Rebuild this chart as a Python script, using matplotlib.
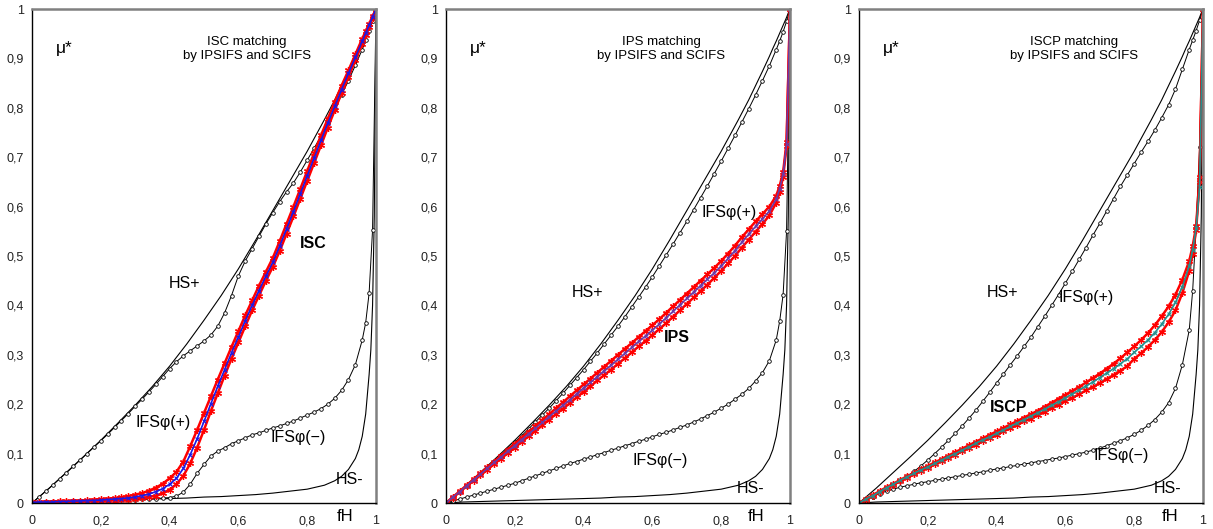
import matplotlib.pyplot as plt

plt.rcParams['font.family'] = ['Liberation Sans', 'DejaVu Sans']

# fH sample points for the IFS and matching curves
FH = [0, .02, .04, .06, .08, .10, .12, .14, .16, .18,
      .20, .22, .24, .26, .28, .30, .32, .34, .36, .38,
      .40, .42, .44, .46, .48, .50, .52, .54, .56, .58,
      .60, .62, .64, .66, .68, .70, .72, .74, .76, .78,
      .80, .82, .84, .86, .88, .90, .92, .94, .96,
      .97, .98, .99, 1.0]

# Hashin-Shtrikman bounds (same for all three cases)
HS_X = [0, .05, .1, .15, .2, .25, .3, .35, .4, .45,
        .5, .55, .6, .65, .7, .75, .8, .85, .88, .9,
        .92, .94, .95, .96, .97, .98, .985, .99, .995, 1.0]
HS_PLUS = [0, .030, .062, .094, .127, .162, .198, .236, .277, .322,
           .370, .420, .474, .532, .592, .652, .712, .776, .816, .845,
           .874, .904, .920, .935, .951, .967, .975, .983, .992, 1.0]
HS_MINUS = [0, .002, .003, .004, .005, .006, .007, .008, .009, .010,
            .012, .013, .015, .017, .020, .024, .028, .036, .045, .054,
            .068, .090, .108, .135, .180, .260, .310, .400, .580, 1.0]

# ISC
isc_ifs_plus = [0, .012, .024, .036, .049, .061, .074, .087, .100, .113,
                .126, .139, .153, .167, .181, .196, .210, .225, .240, .256,
                .272, .286, .298, .308, .318, .328, .340, .358, .385, .420,
                .460, .490, .515, .540, .565, .588, .610, .630, .648, .670,
                .694, .718, .743, .770, .797, .826, .855, .886, .918,
                .937, .955, .975, 1.0]
isc_ifs_minus = [0, .001, .002, .002, .003, .003, .004, .004, .004, .005,
                 .005, .005, .006, .006, .007, .007, .008, .008, .009, .010,
                 .011, .014, .022, .038, .060, .078, .095, .105, .112, .120,
                 .126, .132, .138, .142, .147, .152, .156, .161, .166, .172,
                 .178, .184, .191, .200, .212, .228, .250, .280, .330,
                 .365, .425, .553, 1.0]
isc_upper = [.002, .002, .003, .003, .004, .004, .005, .005, .006, .007,
             .008, .009, .010, .012, .014, .017, .020, .025, .031, .039,
             .050, .063, .084, .115, .148, .182, .216, .250, .283, .316,
             .348, .380, .410, .440, .468, .496, .530, .565, .600, .636,
             .672, .708, .744, .778, .812, .845, .876, .908, .940,
             .955, .970, .985, 1.0]
isc_lower = [.001, .001, .001, .002, .002, .002, .003, .003, .003, .004,
             .004, .005, .005, .006, .007, .008, .010, .012, .015, .020,
             .027, .038, .055, .080, .112, .148, .186, .222, .258, .292,
             .325, .358, .390, .420, .450, .478, .510, .545, .580, .616,
             .652, .688, .724, .760, .795, .830, .863, .896, .930,
             .947, .964, .982, 1.0]
isc_mid = [.001, .002, .002, .002, .003, .003, .004, .004, .005, .005,
           .006, .007, .008, .009, .010, .012, .015, .018, .023, .029,
           .038, .050, .070, .098, .130, .165, .201, .236, .270, .304,
           .336, .369, .400, .430, .459, .487, .520, .555, .590, .626,
           .662, .698, .734, .769, .803, .837, .870, .902, .935,
           .951, .967, .984, 1.0]

# IPS
ips_ifs_plus = [0, .011, .023, .035, .047, .059, .071, .084, .097, .110,
                .123, .136, .150, .164, .178, .192, .207, .222, .238, .254,
                .270, .287, .304, .322, .340, .358, .377, .397, .417, .437,
                .458, .480, .502, .524, .547, .570, .594, .618, .642, .667,
                .692, .718, .744, .771, .798, .826, .855, .885, .918,
                .935, .954, .975, 1.0]
ips_ifs_minus = [0, .004, .008, .012, .016, .020, .024, .028, .032, .036,
                 .040, .045, .050, .055, .060, .065, .070, .075, .080, .084,
                 .089, .093, .098, .102, .107, .111, .116, .120, .125, .129,
                 .134, .139, .143, .148, .153, .158, .164, .170, .177, .184,
                 .192, .200, .210, .220, .232, .247, .264, .288, .330,
                 .368, .422, .550, 1.0]
ips_upper = [0, .012, .024, .036, .048, .060, .072, .084, .096, .108,
             .120, .132, .144, .156, .168, .180, .192, .204, .216, .228,
             .240, .252, .264, .276, .288, .300, .312, .324, .336, .348,
             .360, .372, .385, .398, .411, .424, .437, .450, .463, .476,
             .490, .505, .521, .538, .554, .570, .585, .600, .622,
             .642, .670, .730, 1.0]
ips_lower = [0, .011, .022, .034, .045, .056, .067, .079, .090, .101,
             .112, .124, .135, .146, .157, .169, .180, .191, .202, .214,
             .225, .236, .248, .259, .270, .282, .293, .305, .317, .328,
             .340, .352, .364, .377, .390, .403, .416, .429, .442, .456,
             .470, .485, .500, .517, .533, .549, .565, .582, .608,
             .630, .660, .722, 1.0]
ips_mid = [0, .012, .023, .035, .047, .058, .070, .082, .093, .105,
           .116, .128, .140, .151, .163, .175, .186, .198, .209, .221,
           .233, .244, .256, .268, .279, .291, .303, .315, .327, .338,
           .350, .362, .375, .388, .401, .414, .427, .440, .453, .466,
           .480, .495, .511, .528, .544, .560, .575, .591, .615,
           .636, .665, .726, 1.0]

# ISCP
iscp_ifs_plus = [0, .006, .013, .020, .028, .036, .045, .054, .064, .075,
                 .087, .100, .113, .127, .141, .156, .172, .188, .206, .224,
                 .243, .261, .280, .298, .317, .336, .357, .378, .400, .422,
                 .445, .469, .493, .517, .542, .566, .591, .616, .641, .664,
                 .687, .710, .732, .755, .780, .806, .838, .878, .918,
                 .937, .956, .977, 1.0]
iscp_ifs_minus = [0, .007, .013, .019, .024, .028, .032, .035, .038, .041,
                  .043, .046, .048, .051, .053, .056, .058, .061, .063, .066,
                  .069, .071, .074, .076, .079, .081, .084, .086, .089, .091,
                  .094, .097, .100, .103, .107, .111, .116, .121, .126, .132,
                  .139, .147, .157, .169, .184, .203, .232, .280, .350,
                  .430, .560, .720, 1.0]
iscp_upper = [0, .008, .016, .024, .032, .039, .047, .054, .061, .068,
              .075, .082, .089, .096, .103, .110, .117, .124, .131, .138,
              .145, .152, .159, .166, .173, .180, .187, .195, .203, .211,
              .219, .227, .235, .244, .253, .262, .272, .282, .293, .305,
              .317, .330, .344, .360, .378, .398, .422, .452, .490,
              .520, .560, .660, 1.0]
iscp_lower = [0, .007, .015, .022, .030, .037, .044, .051, .058, .065,
              .071, .078, .085, .091, .098, .105, .111, .118, .125, .131,
              .138, .145, .151, .158, .165, .171, .178, .185, .192, .199,
              .206, .213, .220, .228, .235, .243, .251, .259, .268, .277,
              .292, .303, .316, .330, .346, .366, .390, .425, .470,
              .505, .552, .650, 1.0]
iscp_mid = [0, .008, .015, .023, .031, .038, .046, .053, .060, .067,
            .073, .080, .087, .094, .100, .107, .114, .121, .128, .134,
            .141, .148, .155, .162, .169, .176, .183, .190, .198, .205,
            .213, .221, .229, .237, .245, .254, .263, .272, .282, .292,
            .305, .317, .330, .345, .362, .382, .406, .438, .480,
            .512, .556, .640, 1.0]

X_TICKS = [0, 0.2, 0.4, 0.6, 0.8, 1.0]
X_LABELS = ['0', '0,2', '0,4', '0,6', '0,8', '1']
Y_TICKS = [0, .1, .2, .3, .4, .5, .6, .7, .8, .9, 1.0]
Y_LABELS = ['0', '0,1', '0,2', '0,3', '0,4', '0,5', '0,6', '0,7', '0,8', '0,9', '1']

panels = [
    dict(left=32, title='ISC matching\nby IPSIFS and SCIFS', fh_x=0.91,
         ifs_p=isc_ifs_plus, ifs_m=isc_ifs_minus, up=isc_upper, lo=isc_lower,
         mid=isc_mid, mid_color='#1a1ae6',
         labels=[('HS+', .442, .445, 'normal'), ('ISC', .817, .526, 'bold'),
                 ('IFSφ(+)', .382, .162, 'normal'), ('IFSφ(−)', .774, .132, 'normal'),
                 ('HS-', .922, .047, 'normal')]),
    dict(left=446, title='IPS matching\nby IPSIFS and SCIFS', fh_x=0.90,
         ifs_p=ips_ifs_plus, ifs_m=ips_ifs_minus, up=ips_upper, lo=ips_lower,
         mid=ips_mid, mid_color='#6a3aa8',
         labels=[('HS+', .411, .427, 'normal'), ('IFSφ(+)', .823, .589, 'normal'),
                 ('IPS', .670, .336, 'bold'), ('IFSφ(−)', .624, .087, 'normal'),
                 ('HS-', .886, .030, 'normal')]),
    dict(left=859, title='ISCP matching\nby IPSIFS and SCIFS', fh_x=0.904,
         ifs_p=iscp_ifs_plus, ifs_m=iscp_ifs_minus, up=iscp_upper, lo=iscp_lower,
         mid=iscp_mid, mid_color='#23908f',
         labels=[('HS+', .416, .427, 'normal'), ('IFSφ(+)', .660, .417, 'normal'),
                 ('ISCP', .436, .194, 'bold'), ('IFSφ(−)', .763, .097, 'normal'),
                 ('HS-', .896, .030, 'normal')]),
]

W, H = 1213, 529
fig = plt.figure(figsize=(W / 100, H / 100), dpi=100)

for p in panels:
    ax = fig.add_axes([p['left'] / W, (H - 503) / H, 344 / W, 494 / H])

    ax.plot(HS_X, HS_PLUS, color='black', lw=0.8)
    ax.plot(HS_X, HS_MINUS, color='black', lw=0.8)
    for ys in (p['ifs_p'], p['ifs_m']):
        ax.plot(FH, ys, color='black', lw=0.7, marker='o', ms=2.6,
                mfc='white', mec='black', mew=0.6)
    for ys in (p['up'], p['lo']):
        ax.plot(FH, ys, color='red', lw=1.8, marker=(6, 2, 0), ms=5,
                mec='red', mew=0.9)
    ax.plot(FH, p['mid'], color=p['mid_color'], lw=1.2, marker='x', ms=3,
            mew=0.8)

    ax.set_xlim(0, 1)
    ax.set_ylim(0, 1)
    ax.set_xticks(X_TICKS)
    ax.set_xticklabels(X_LABELS)
    ax.set_yticks(Y_TICKS)
    ax.set_yticklabels(Y_LABELS)
    ax.tick_params(length=0, labelsize=9, colors='#222222')
    ax.tick_params(axis='x', pad=9)
    ax.tick_params(axis='y', pad=6)

    for side in ('left', 'bottom'):
        ax.spines[side].set_color('black')
        ax.spines[side].set_linewidth(1.0)
    for side in ('top', 'right'):
        ax.spines[side].set_color('#808080')
        ax.spines[side].set_linewidth(1.8)

    ax.text(0.094, 0.921, 'μ*', fontsize=12.5, ha='center', va='center')
    ax.text(0.625, 0.919, p['title'], fontsize=9.5, ha='center', va='center',
            linespacing=1.2)
    for txt, x, y, wt in p['labels']:
        ax.text(x, y, txt, fontsize=11.5, fontweight=wt, ha='center', va='center')
    ax.text(p['fh_x'], -0.028, 'fH', fontsize=12, ha='center', va='center')

fig.savefig('out.png', dpi=100)
